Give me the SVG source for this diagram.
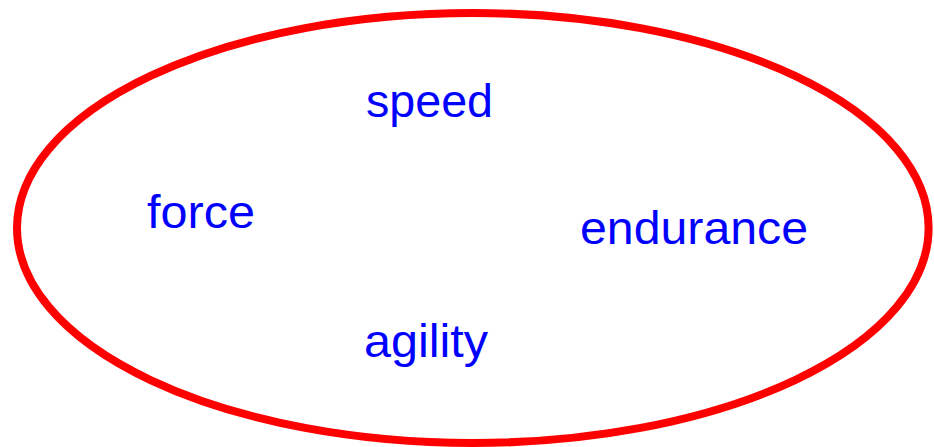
<svg xmlns="http://www.w3.org/2000/svg" width="934" height="447" viewBox="0 0 934 447">
<style>
.lbl{font-family:"Liberation Sans",Arial,sans-serif;font-size:46px;fill:#0000ff}
</style>
<rect width="934" height="447" fill="#ffffff"/>
<g id="boundary"><ellipse cx="472.8" cy="228" rx="455.8" ry="215" fill="none" stroke="#ff0000" stroke-width="8"/></g>
<g id="connectors"></g>
<g id="speed"><text class="lbl" x="366" y="117" textLength="127" lengthAdjust="spacingAndGlyphs">speed</text></g>
<g id="force"><text class="lbl" x="147" y="228" textLength="108" lengthAdjust="spacingAndGlyphs">force</text></g>
<g id="endurance"><text class="lbl" x="580" y="244" textLength="228" lengthAdjust="spacingAndGlyphs">endurance</text></g>
<g id="agility"><text class="lbl" x="364" y="357" textLength="124" lengthAdjust="spacingAndGlyphs">agility</text></g>
</svg>
